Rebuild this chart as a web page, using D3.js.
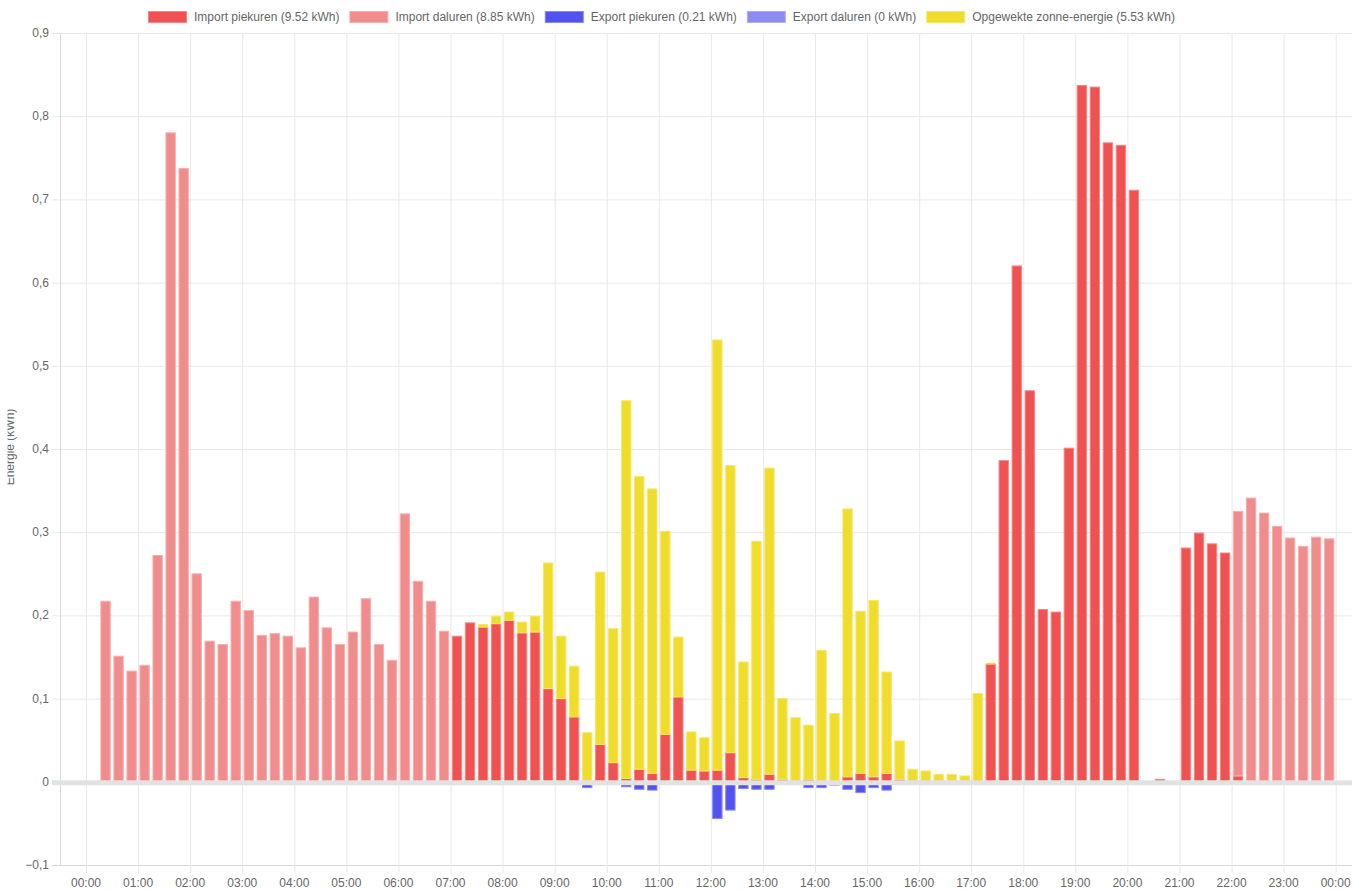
<!DOCTYPE html>
<html>
<head>
<meta charset="utf-8">
<script src="https://cdn.jsdelivr.net/npm/d3@7"></script>
<style>
body { margin: 0; background: #fff; }
svg { display: block; font-family: "Liberation Sans", Arial, Helvetica, sans-serif; }
</style>
</head>
<body>
<svg></svg>
<script>
// quarter-hour values in kWh, index 0 = 00:00-00:15
const importPiek = [
	0,0,0,0,0,0,0,0,0,0,0,0,
	0,0,0,0,0,0,0,0,0,0,0,0,
	0,0,0,0,0.175,0.191,0.186,0.190,0.194,0.179,0.180,0.112,
	0.100,0.078,0.001,0.045,0.023,0.004,0.015,0.010,0.057,0.102,0.014,0.013,
	0.014,0.035,0.005,0.003,0.009,0.003,0,0.003,0,0,0.006,0.010,
	0.006,0.010,0.003,0,0,0,0,0,0,0.141,0.386,0.620,
	0.470,0.207,0.204,0.401,0.837,0.835,0.768,0.765,0.711,0,0.003,0,
	0.281,0.299,0.286,0.275,0.007,0,0,0,0,0,0,0
];
const importDal = [
	0,0.217,0.151,0.133,0.140,0.272,0.780,0.737,0.250,0.169,0.165,0.217,
	0.206,0.176,0.178,0.175,0.161,0.222,0.185,0.165,0.180,0.220,0.165,0.146,
	0.322,0.241,0.217,0.181,0,0,0,0,0,0,0,0,
	0,0,0,0,0,0,0,0,0,0,0,0,
	0,0,0,0,0,0,0,0,0,0,0,0,
	0,0,0,0,0,0,0,0,0,0,0,0,
	0,0,0,0,0,0,0,0,0,0,0,0,
	0,0,0,0,0.318,0.341,0.323,0.307,0.293,0.283,0.294,0.292
];
const exportPiek = [
	0,0,0,0,0,0,0,0,0,0,0,0,
	0,0,0,0,0,0,0,0,0,0,0,0,
	0,0,0,0,0,0,0,0,0,0,0,0.002,
	0,0.003,0.007,0.003,0.003,0.006,0.009,0.010,0.002,0.003,0,0.003,
	0.044,0.034,0.008,0.009,0.009,0.001,0,0.007,0.007,0.004,0.009,0.013,
	0.007,0.010,0.002,0,0,0.002,0,0,0,0,0,0,
	0,0,0,0,0,0,0,0,0.002,0,0,0,
	0,0,0,0,0,0,0,0,0,0,0,0
];
const exportDal = d3.range(96).map(() => 0);
const solar = [
	0,0,0,0,0,0,0,0,0,0,0,0,
	0,0,0,0,0,0,0,0,0,0,0,0,
	0,0,0,0,0,0,0.003,0.009,0.010,0.013,0.019,0.151,
	0.075,0.061,0.058,0.207,0.161,0.454,0.352,0.342,0.244,0.072,0.046,0.040,
	0.517,0.345,0.139,0.286,0.368,0.097,0.077,0.065,0.158,0.082,0.322,0.195,
	0.212,0.122,0.046,0.015,0.013,0.009,0.009,0.007,0.106,0.002,0,0,
	0,0,0,0,0,0,0,0,0,0,0,0,
	0,0,0,0,0,0,0,0,0,0,0,0
];

const seriesNames = ['Import piekuren', 'Import daluren', 'Export piekuren', 'Export daluren', 'Opgewekte zonne-energie'];
const legendTotals = [9.52, 8.85, 0.21, 0, 5.53];
const seriesColors = ['rgb(240,82,82)', 'rgb(241,140,140)', 'rgb(82,82,240)', 'rgb(140,140,240)', 'rgb(240,220,42)'];
const yTicks = [-0.1, 0, 0.1, 0.2, 0.3, 0.4, 0.5, 0.6, 0.7, 0.8, 0.9];
const hourTicks = d3.range(0, 25);

const width = 1355;
const height = 891;
const plotLeft = 60;
const plotRight = 1352;
const plotTop = 33;
const plotBottom = 865;
const textColor = '#666';
const gridColor = '#e8e8e8';

const svg = d3.select('svg').attr('width', width).attr('height', height);

// x in minutes since midnight
const x = d3.scaleLinear().domain([-30, 24 * 60 + 18.8]).range([plotLeft, plotRight]);
const y = d3.scaleLinear().domain([-0.1, 0.9]).range([plotBottom, plotTop]);

// grid
const grid = svg.append('g');
grid.selectAll('line.h').data(yTicks).enter().append('line')
	.attr('x1', plotLeft - 8).attr('x2', plotRight)
	.attr('y1', d => y(d) + 0.5).attr('y2', d => y(d) + 0.5)
	.style('stroke', d => d === -0.1 ? '#d9d9d9' : gridColor);
grid.append('line')
	.attr('x1', plotLeft + 0.5).attr('x2', plotLeft + 0.5)
	.attr('y1', plotTop).attr('y2', plotBottom)
	.style('stroke', '#d9d9d9');
grid.selectAll('line.v').data(hourTicks).enter().append('line')
	.attr('x1', d => x(d * 60) + 0.5).attr('x2', d => x(d * 60) + 0.5)
	.attr('y1', plotTop).attr('y2', plotBottom + 8)
	.style('stroke', gridColor);

// y labels
svg.append('g').selectAll('text').data(yTicks).enter().append('text')
	.attr('x', plotLeft - 11).attr('y', d => y(d) + 4)
	.attr('text-anchor', 'end')
	.style('font-size', '12px').style('fill', textColor)
	.text(d => d === 0 ? '0' : d3.format('.1f')(d).replace('.', ','));

// x labels
svg.append('g').selectAll('text').data(hourTicks).enter().append('text')
	.attr('x', d => x(d * 60)).attr('y', plotBottom + 22)
	.attr('text-anchor', 'middle')
	.style('font-size', '12px').style('fill', textColor)
	.text(d => d3.format('02d')(d % 24) + ':00');

// y title, partly cut at the left edge like the original
svg.append('clipPath').attr('id', 'titleClip')
	.append('rect').attr('x', 7.5).attr('y', 0).attr('width', 40).attr('height', height);
svg.append('g').attr('clip-path', 'url(#titleClip)')
	.append('text')
	.attr('transform', `translate(14,${(plotTop + plotBottom) / 2 - 2}) rotate(-90)`)
	.attr('text-anchor', 'middle')
	.style('font-size', '12px').style('fill', textColor)
	.text('Energie (kWh)');

// stacked bars
const rows = d3.range(96).map(i => ({
	i: i,
	ip: importPiek[i],
	id: importDal[i],
	ep: -exportPiek[i],
	ed: -exportDal[i],
	so: solar[i]
}));
const keys = ['ip', 'id', 'ep', 'ed', 'so'];
const stack = d3.stack().keys(keys).offset(d3.stackOffsetDiverging)(rows);

const slot = x(15) - x(0);
const barW = slot * 0.72;

const bars = svg.append('g');
stack.forEach((s, k) => {
	const col = seriesColors[k];
	const edge = d3.interpolateRgb(col, '#fff')(0.3);
	const segs = s.filter(d => d[1] !== d[0]);
	bars.append('g').selectAll('rect').data(segs).enter().append('rect')
		.attr('x', d => x(d.data.i * 15 + 7.5) - barW / 2)
		.attr('width', barW)
		.attr('y', d => y(Math.max(d[0], d[1])))
		.attr('height', d => Math.abs(y(d[0]) - y(d[1])))
		.style('fill', col)
		.style('stroke', d => Math.abs(y(d[0]) - y(d[1])) > 2 ? edge : 'none')
		.style('stroke-width', 1);
});

// zero line drawn on top
svg.append('line')
	.attr('x1', plotLeft - 8).attr('x2', plotRight)
	.attr('y1', y(0) + 1).attr('y2', y(0) + 1)
	.style('stroke', '#e2e2e2').style('stroke-width', 5);

// legend
const legend = svg.append('g');
let lx = 148;
seriesNames.forEach((name, k) => {
	const col = seriesColors[k];
	legend.append('rect')
		.attr('x', lx + 0.5).attr('y', 11.5)
		.attr('width', 38).attr('height', 11)
		.style('fill', col)
		.style('stroke', d3.interpolateRgb(col, '#fff')(0.3));
	const t = legend.append('text')
		.attr('x', lx + 46).attr('y', 21)
		.style('font-size', '12px').style('fill', textColor)
		.text(`${name} (${legendTotals[k]} kWh)`);
	lx += 46 + t.node().getComputedTextLength() + 10;
});
</script>
</body>
</html>
